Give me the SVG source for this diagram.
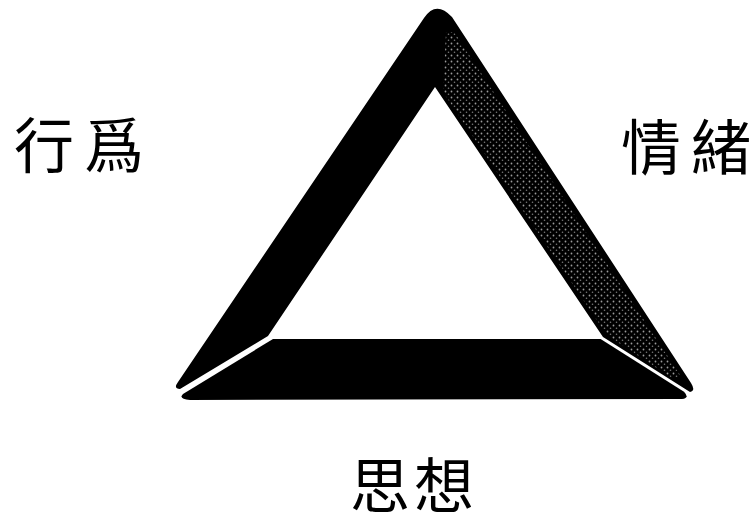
<svg xmlns="http://www.w3.org/2000/svg" width="756" height="520" viewBox="0 0 756 520">
  <style>
    .bar { fill: #000; }
    .lbl { font-family: "Noto Sans CJK TC", "Noto Sans CJK SC", sans-serif; font-size: 60px; fill: #000; }
  </style>
  <defs>
    <pattern id="stipple" width="6" height="6" patternUnits="userSpaceOnUse">
      <rect width="6" height="6" fill="#000"/>
      <circle cx="1.5" cy="1.5" r="0.9" fill="#9a9a9a"/>
      <circle cx="4.5" cy="4.2" r="0.8" fill="#7a7a7a"/>
    </pattern>
  </defs>
  <rect width="756" height="520" fill="#fff"/>
  <g id="triangle">
    <path id="sides" class="bar" d="M 424,18 Q 436,0 452,17 L 691,383 Q 696,391 690,392 L 603,337 L 435,87 L 268,336 L 180,389 Q 173,389 178,382 Z"/>
    <path id="stipple-band" fill="url(#stipple)" d="M 446,32 L 454,32 L 682,378 L 672,378 L 607,335 L 443,92 Z"/>
    <path id="base" class="bar" d="M 273,339 L 600.6,339 L 684,391.7 Q 690,398 682,399 L 190,400 Q 178,399 183,394 Z"/>
  </g>
  <g id="labels">
    <text class="lbl" x="14 84" y="168">行爲</text>
    <text class="lbl" x="621 691" y="170">情緒</text>
    <text class="lbl" x="350 414" y="508">思想</text>
  </g>
</svg>
